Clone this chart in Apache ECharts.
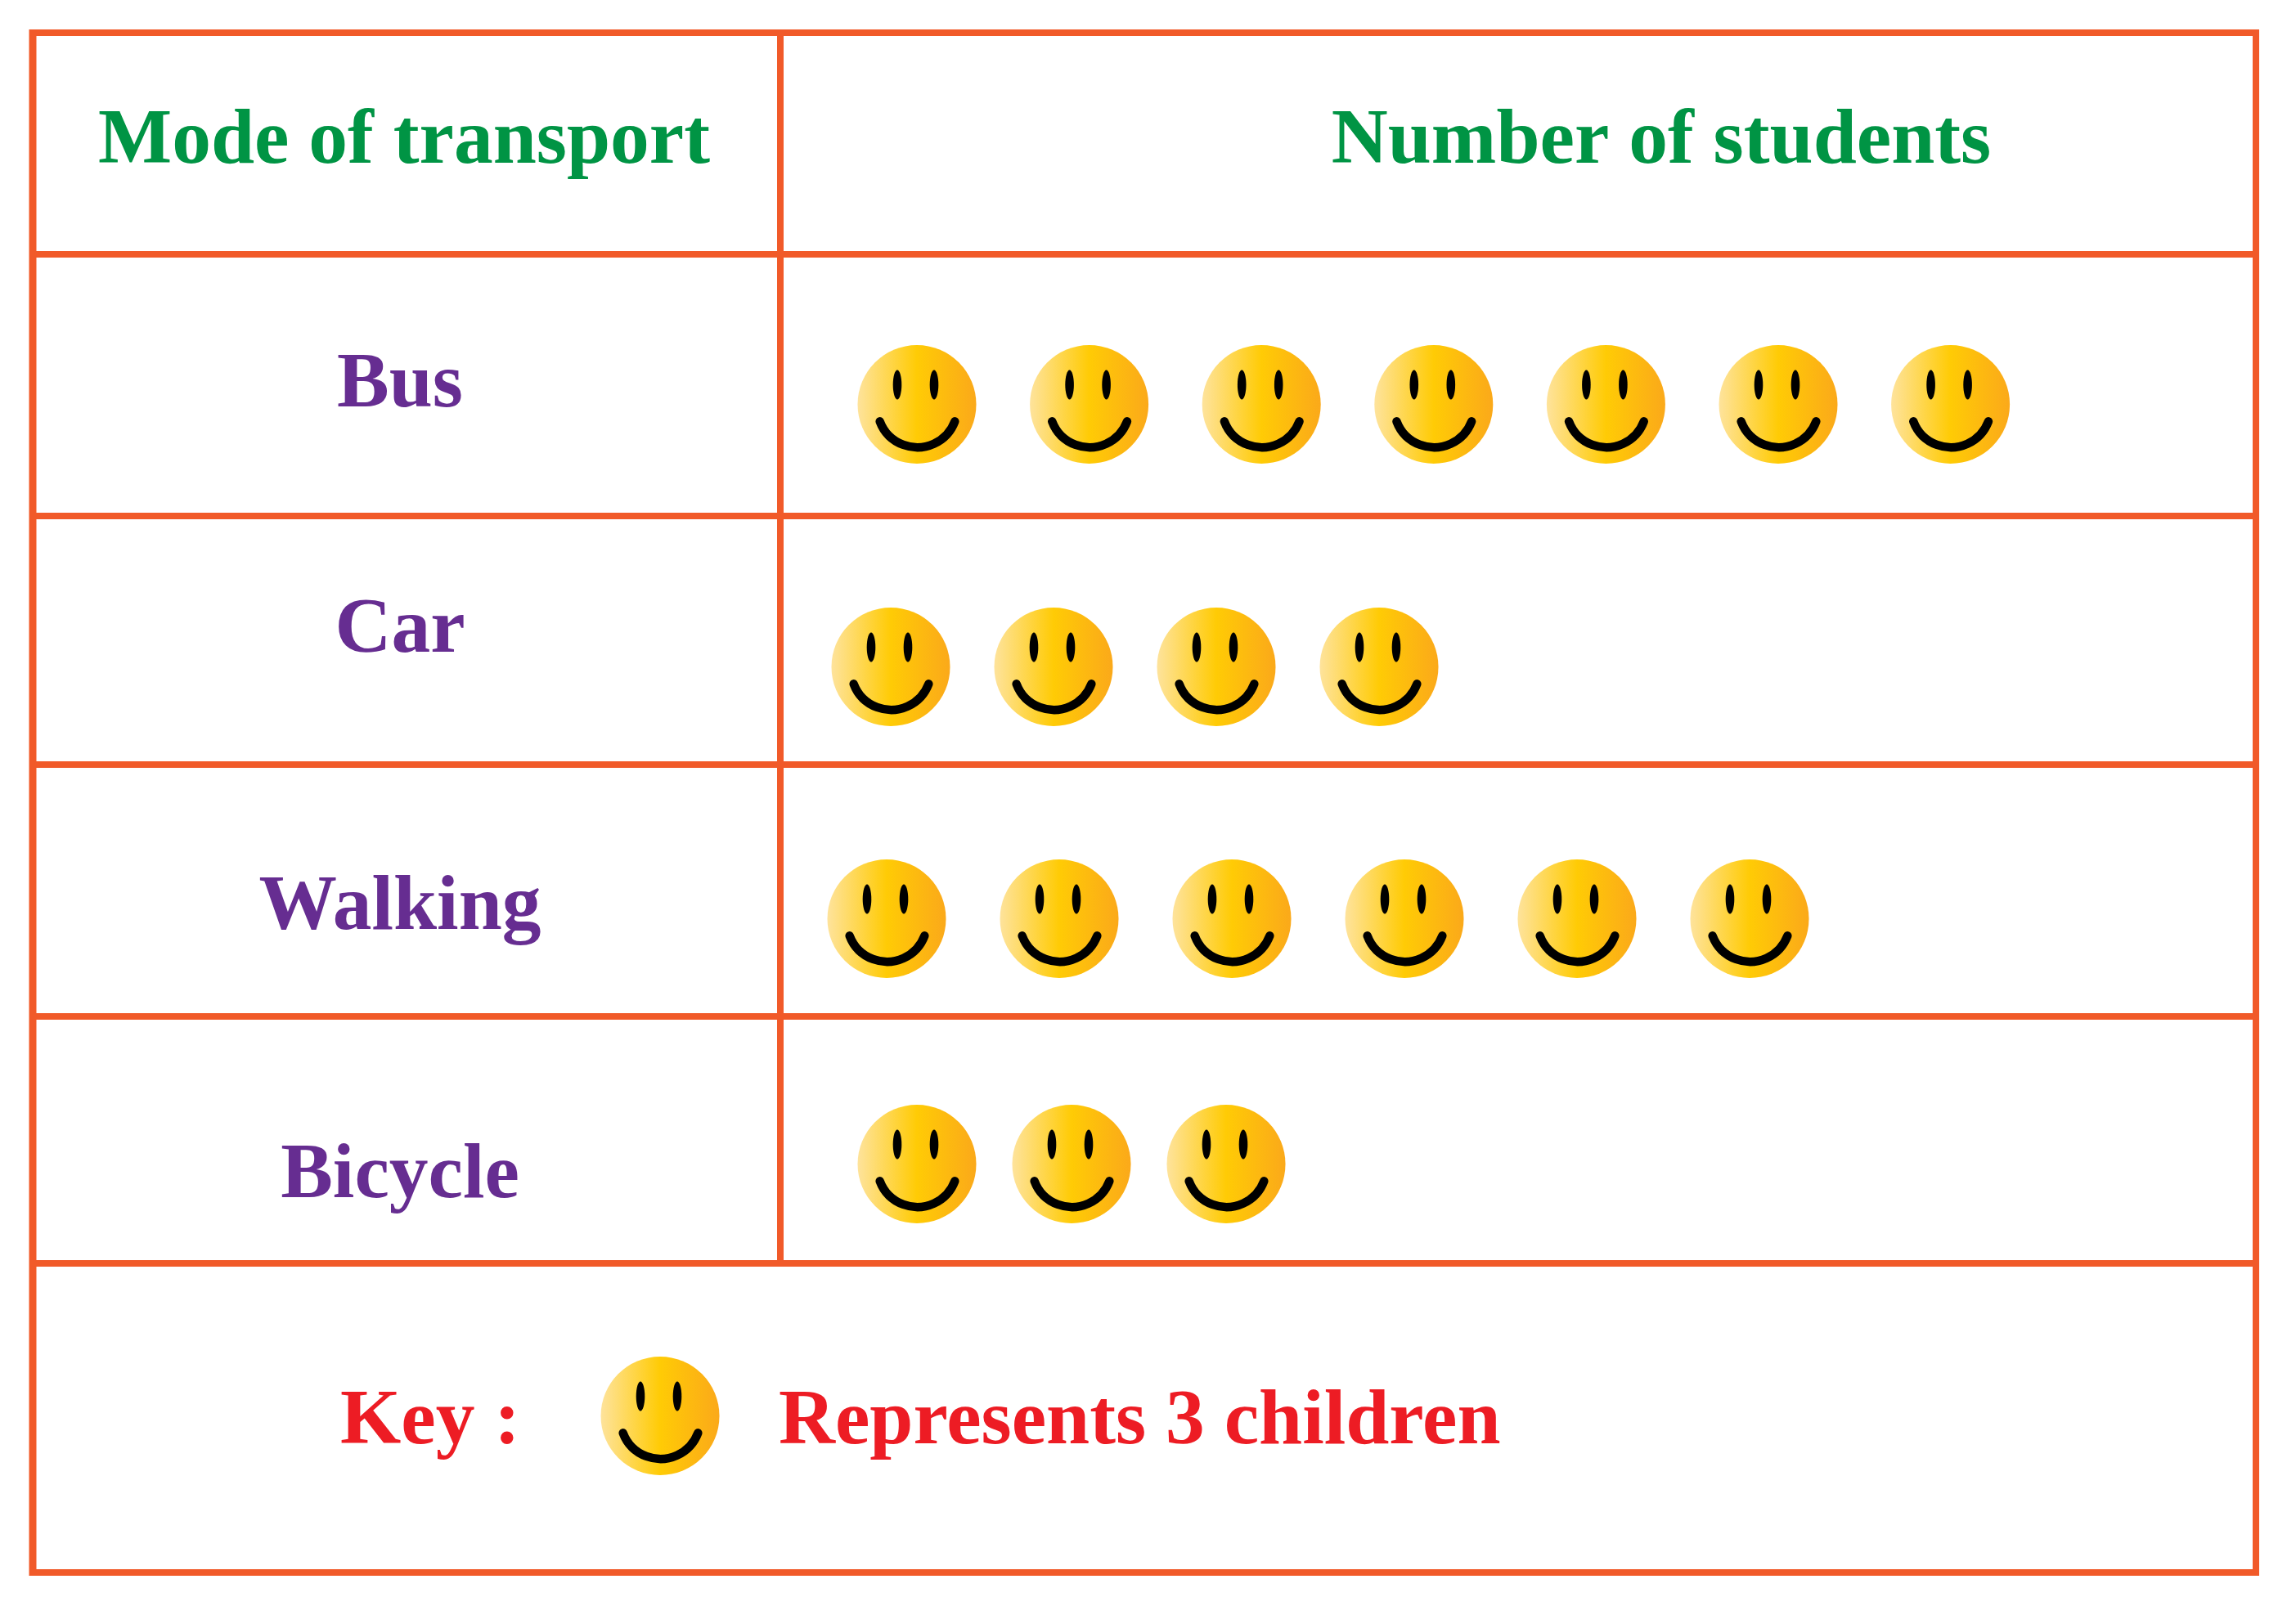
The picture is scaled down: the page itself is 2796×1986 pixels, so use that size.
<!DOCTYPE html>
<html>
<head>
<meta charset="utf-8">
<style>html,body{margin:0;padding:0;background:#fff}#chart{width:2796px;height:1986px}</style>
<script src="https://cdn.jsdelivr.net/npm/echarts@6/dist/echarts.min.js"></script>
</head>
<body>
<div id="chart"></div>
<script>
// Pictograph data
const headers = ['Mode of transport', 'Number of students'];
const modes = ['Bus', 'Car', 'Walking', 'Bicycle'];
const students = [21, 12, 18, 9];
const childrenPerFace = 3;
const keyLabel = 'Key :';
const keyText = 'Represents 3 children';

// Page layout of the table
const rowLines = [40, 311, 631, 935, 1243, 1545, 1923];
const colX = { left: 40, mid: 954, right: 2758 };
const faceRows = [
  { x: 1121, y: 494.5, pitch: 210.6 },
  { x: 1089, y: 815.5, pitch: 199 },
  { x: 1084, y: 1123.5, pitch: 211 },
  { x: 1121, y: 1423.5, pitch: 189 }
];
const keyFace = { x: 807, y: 1731.5, pitch: 200 };
const labelBaselines = [495, 795, 1134, 1462];
const FACE_R = 72.5;
const SLOTS = 7;
const FONT_SIZE = 95.5;
const FONT = '"Liberation Serif", serif';
const BORDER = '#F15A29';

// A smiley centred on one data point
function renderFace(params, api) {
  const c = api.coord([api.value(0), 0]);
  const r = FACE_R;
  return {
    type: 'group',
    x: c[0],
    y: c[1],
    children: [
      {
        type: 'circle',
        shape: { cx: 0, cy: 0, r: r },
        style: {
          fill: new echarts.graphic.LinearGradient(0, 0, 1, 0, [
            { offset: 0, color: '#FEE39C' },
            { offset: 0.5, color: '#FFCB05' },
            { offset: 1, color: '#FBA91A' }
          ])
        }
      },
      { type: 'ellipse', shape: { cx: -24, cy: -24, rx: 5.3, ry: 18 }, style: { fill: '#000' } },
      { type: 'ellipse', shape: { cx: 21, cy: -24, rx: 5.3, ry: 18 }, style: { fill: '#000' } },
      {
        type: 'arc',
        shape: { cx: 0.5, cy: 3.6, r: 49, startAngle: 0.36, endAngle: Math.PI - 0.36, clockwise: true },
        style: { fill: null, stroke: '#000', lineWidth: 10.5, lineCap: 'round' }
      }
    ]
  };
}

const grids = [], xAxes = [], yAxes = [], series = [];
function addFaceRow(place, count, name) {
  const i = grids.length;
  grids.push({
    left: place.x,
    top: place.y - FACE_R,
    width: place.pitch * SLOTS,
    height: FACE_R * 2
  });
  xAxes.push({ type: 'value', gridIndex: i, min: 0, max: SLOTS, show: false });
  yAxes.push({ type: 'category', gridIndex: i, data: [name], show: false });
  const slots = [];
  for (let k = 0; k < count; k++) slots.push([k, 0]);
  series.push({
    type: 'custom',
    name: name,
    xAxisIndex: i,
    yAxisIndex: i,
    clip: false,
    silent: true,
    renderItem: renderFace,
    data: slots
  });
}
modes.forEach((m, i) => addFaceRow(faceRows[i], students[i] / childrenPerFace, m));
addFaceRow(keyFace, 1, 'Key');

// Table rules
const rules = [];
function rule(x1, y1, x2, y2, w) {
  rules.push({
    type: 'line',
    shape: { x1, y1, x2, y2 },
    style: { stroke: BORDER, lineWidth: w }
  });
}
rowLines.forEach(y => rule(colX.left - 4, y, colX.right + 4, y, 8));
rule(colX.left, rowLines[0] - 4, colX.left, rowLines[6] + 4, 9);
rule(colX.right, rowLines[0] - 4, colX.right, rowLines[6] + 4, 8);
rule(colX.mid, rowLines[0], colX.mid, rowLines[5], 8);

// Table text, placed by its baseline
function label(text, x, baseline, color, align) {
  return {
    type: 'text',
    x: x,
    y: baseline - FONT_SIZE * 0.745,
    style: {
      text: text,
      fill: color,
      font: 'bold ' + FONT_SIZE + 'px ' + FONT,
      align: align,
      verticalAlign: 'top'
    }
  };
}
const texts = [
  label(headers[0], 494, 197, '#009444', 'center'),
  label(headers[1], 2031, 197, '#009444', 'center'),
  label(keyLabel, 416, 1763, '#ED1C24', 'left'),
  label(keyText, 952, 1763, '#ED1C24', 'left')
];
modes.forEach((m, i) => texts.push(label(m, 489, labelBaselines[i], '#662D91', 'center')));

const chart = echarts.init(document.getElementById('chart'));
chart.setOption({
  animation: false,
  backgroundColor: '#fff',
  grid: grids,
  xAxis: xAxes,
  yAxis: yAxes,
  series: series,
  graphic: { elements: rules.concat(texts) }
});
</script>
</body>
</html>
